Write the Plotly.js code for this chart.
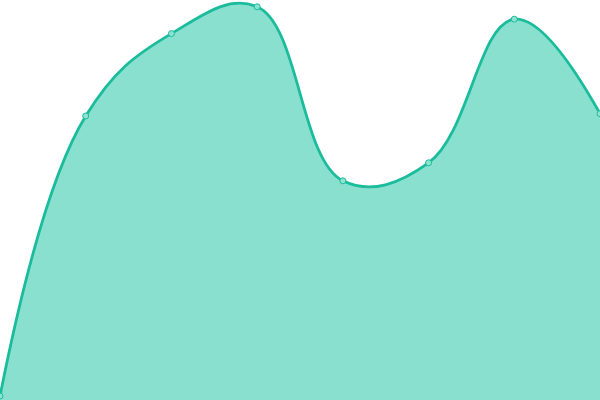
<!DOCTYPE html>
<html>
<head>
<meta charset="utf-8">
<script src="https://cdn.plot.ly/plotly-3.0.1.min.js"></script>
<style>
  html, body { margin: 0; padding: 0; background: #ffffff; }
  #chart { width: 600px; height: 400px; }
</style>
</head>
<body>
<div id="chart"></div>
<script>
const xValues = [0, 1, 2, 3, 4, 5, 6, 7];
const yValues = [1, 71, 91.6, 98.3, 54.8, 59.3, 95.2, 71.6];

const trace = {
    x: xValues,
    y: yValues,
    type: 'scatter',
    mode: 'lines+markers',
    fill: 'tozeroy',
    fillcolor: '#8ae0cf',
    line: {color: '#1abc9c', width: 2.8, shape: 'spline', smoothing: 1.15},
    marker: {size: 6, color: '#8ee3d0', line: {color: '#1abc9c', width: 1}},
    hoverinfo: 'none',
};

const layout = {
    width: 600,
    height: 400,
    margin: {l: 0, r: 0, t: 0, b: 0},
    paper_bgcolor: '#ffffff',
    plot_bgcolor: '#ffffff',
    xaxis: {range: [0, 7], visible: false, fixedrange: true},
    yaxis: {range: [0, 100], visible: false, fixedrange: true},
    showlegend: false,
};

Plotly.newPlot('chart', [trace], layout, {displayModeBar: false, staticPlot: true});
</script>
</body>
</html>
